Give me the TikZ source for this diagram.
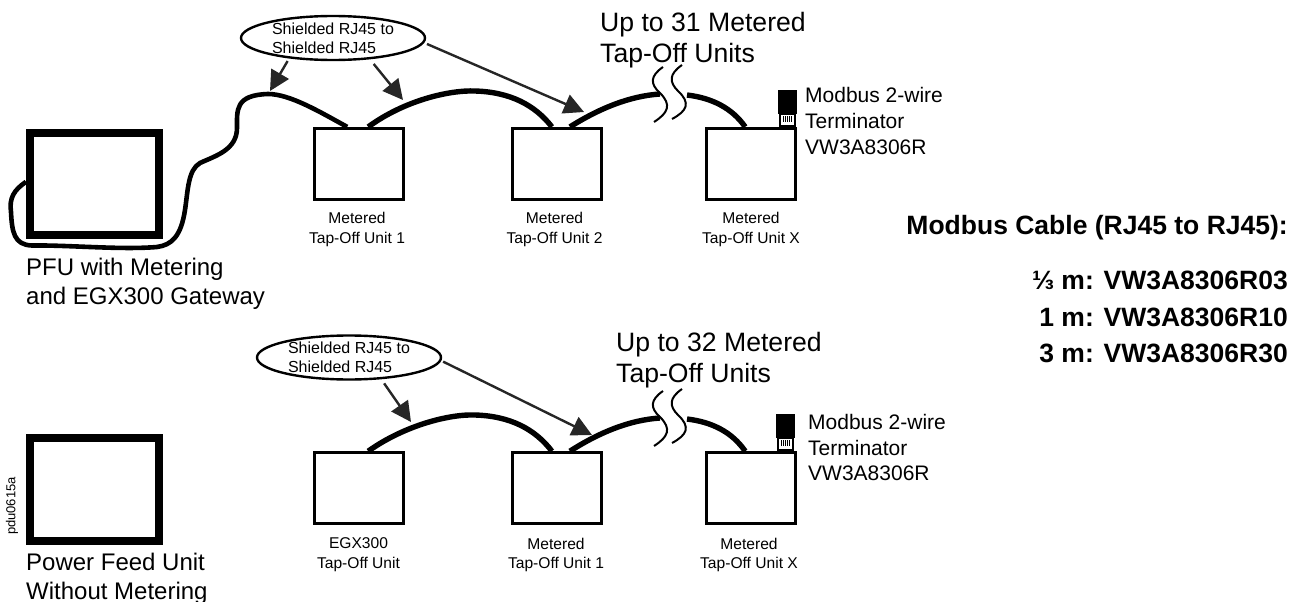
\documentclass[tikz,border=0pt]{standalone}
\usepackage{fontspec}
\setmainfont{Liberation Sans}
\usetikzlibrary{arrows.meta, calc, shapes.geometric}

\begin{document}
\begin{tikzpicture}[
    x=1pt, y=-1pt,
    small/.style={font=\fontsize{15.6}{19.5}\selectfont, align=center, inner sep=0pt},
    medium/.style={font=\fontsize{21}{25.8}\selectfont, align=left, anchor=west, inner sep=0pt},
    large/.style={font=\fontsize{24}{29}\selectfont, align=left, anchor=west, inner sep=0pt},
    huge/.style={font=\fontsize{26.6}{31.5}\selectfont, align=left, anchor=west, inner sep=0pt},
    bold/.style={font=\fontsize{26.5}{36.7}\selectfont\bfseries, align=right, anchor=east, inner sep=0pt},
    feed/.style={draw, line width=8pt, minimum width=129pt, minimum height=102.5pt, inner sep=0pt},
    unit/.style={draw, line width=2.6pt, minimum width=89pt, minimum height=71pt, inner sep=0pt},
    callout/.style={draw, ellipse, line width=2.4pt, minimum width=184pt, minimum height=44pt, inner sep=0pt,
        font=\fontsize{16}{19}\selectfont, align=left},
    arrow/.style={-{Triangle[length=20pt, width=20pt]}, line width=2.4pt, black!85},
    cable/.style={line width=5.4pt},
    wavy/.style={line width=4.6pt},
    gap/.style={line width=2pt}
]
\useasboundingbox (0,0) rectangle (1299,602);

% === NODES ===

% Upper row
\node[feed] (pfutop) at (94.5,183.8) {};
\node[unit] (topa) at (359.2,163.7) {};
\node[unit] (topb) at (556.9,163.7) {};
\node[unit] (topx) at (751.2,163.7) {};

% Lower row
\node[feed] (pfulow) at (94.5,489.3) {};
\node[unit] (lowa) at (359.2,488) {};
\node[unit] (lowb) at (556.9,488) {};
\node[unit] (lowx) at (751.2,488) {};

% Callouts
\node[callout] (shieldtop) at (333,38) {Shielded RJ45 to\\Shielded RJ45};
\node[callout] (shieldlow) at (349,357.5) {Shielded RJ45 to\\Shielded RJ45};

% Arrow tips
\coordinate (tipa) at (270,91);
\coordinate (tipb) at (403,100);
\coordinate (tipc) at (584,112);
\coordinate (tipd) at (411,422);
\coordinate (tipe) at (592,435);

% === TEXT ===

\node[small] (labela) at (357,229.5) {Metered\\Tap-Off Unit 1};
\node[small] (labelb) at (554.5,229.5) {Metered\\Tap-Off Unit 2};
\node[small] (labelx) at (751,229.5) {Metered\\Tap-Off Unit X};
\node[small] (labelc) at (358.5,554.8) {EGX300\\Tap-Off Unit};
\node[small] (labeld) at (556,554.8) {Metered\\Tap-Off Unit 1};
\node[small] (labele) at (749,554.8) {Metered\\Tap-Off Unit X};

\node[large] (textpfu) at (26,284) {PFU with Metering\\and EGX300 Gateway};
\node[large] (textfeed) at (26,578.5) {Power Feed Unit\\Without Metering};
\node[huge] (uptop) at (600,40) {Up to 31 Metered\\Tap-Off Units};
\node[huge] (uplow) at (616,360) {Up to 32 Metered\\Tap-Off Units};
\node[medium] (modtop) at (805,121) {Modbus 2-wire\\Terminator\\VW3A8306R};
\node[medium] (modlow) at (808,447.5) {Modbus 2-wire\\Terminator\\VW3A8306R};

\node[bold] (cabletitle) at (1288,228) {Modbus Cable (RJ45 to RJ45):};
\node[bold] (cablelist) at (1288,317) {⅓ m: VW3A8306R03\\1 m: VW3A8306R10\\3 m: VW3A8306R30};

\node[font=\fontsize{13}{15}\selectfont, rotate=90, inner sep=0pt] (partno) at (12,506) {pdu0615a};

% === CABLES ===

% Wavy run from the gateway
\draw[wavy] ([yshift=2pt]pfutop.west)
    .. controls (14,190) and (9,198) .. (11,212)
    .. controls (12,232) and (14,245) .. (32,245.5)
    .. controls (70,245) and (120,250) .. (157,247)
    .. controls (172,245) and (181,236) .. (185,210)
    .. controls (188,190) and (188,170) .. (200,163)
    .. controls (215,156) and (237,150) .. (237,128)
    .. controls (237,110) and (235,95) .. (268,94)
    .. controls (290,94) and (320,112) .. ([xshift=-12pt]topa.north);

% Upper chain
\draw[cable] ([xshift=9pt]topa.north) .. controls (405,100) and (450,90) .. (475,91)
    .. controls (510,92) and (535,105) .. ([xshift=-5pt]topb.north);
\draw[cable] ([xshift=13pt]topb.north) .. controls (600,108) and (630,96) .. (660,94);
\draw[cable] (687,95) .. controls (712,98) and (732,108) .. ([xshift=-6pt]topx.north);

% Lower chain
\draw[cable] ([xshift=9pt]lowa.north) .. controls (405,425) and (450,414) .. (475,415)
    .. controls (510,416) and (535,429) .. ([xshift=-5pt]lowb.north);
\draw[cable] ([xshift=13pt]lowb.north) .. controls (600,432) and (630,420) .. (660,418);
\draw[cable] (687,419) .. controls (712,422) and (732,432) .. ([xshift=-6pt]lowx.north);

% Breaks in the cable
\foreach \gapy in {0,324} {
    \draw[gap, yshift=-\gapy] (663,67) .. controls (650,76) and (650,84) .. (660,93)
        .. controls (672,105) and (668,113) .. (654,122);
    \draw[gap, yshift=-\gapy] (682,65) .. controls (669,74) and (669,82) .. (678,91)
        .. controls (691,103) and (687,111) .. (672,119);
}

% === TERMINATORS ===

\foreach \termx/\termy in {778/90, 776/414} {
    \fill (\termx,\termy) rectangle ++(19,24);
    \draw[line width=1.3pt] (\termx+2,\termy+24) rectangle ++(15,12);
    \foreach \stripe in {6,8,10,12,14}
        \draw[line width=1pt] (\termx+\stripe-0.5,\termy+26) -- ++(0,6);
}

% === ARROWS ===

\draw[arrow, shorten <=3pt] (shieldtop.205) -- (tipa);
\draw[arrow, shorten <=6pt] (shieldtop.330) -- (tipb);
\draw[arrow, shorten <=3pt] (shieldtop.357) -- (tipc);
\draw[arrow, shorten <=5pt] (shieldlow.326) -- (tipd);
\draw[arrow, shorten <=2pt] (shieldlow.358) -- (tipe);

\end{tikzpicture}
\end{document}
